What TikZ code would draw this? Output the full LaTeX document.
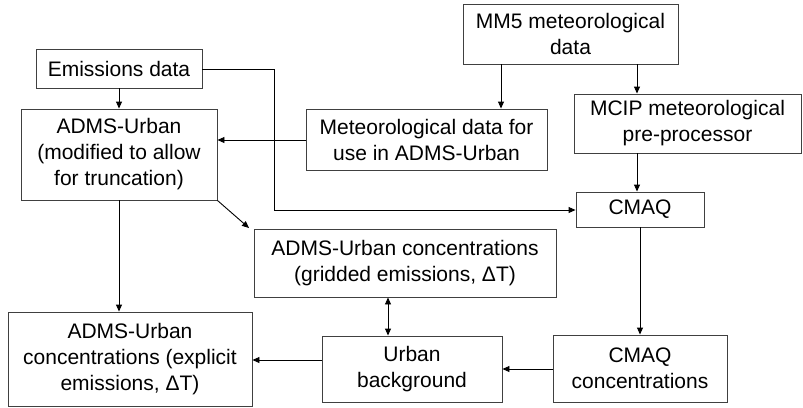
\documentclass[tikz,border=0pt]{standalone}
\usepackage{fontspec}
\setmainfont{Liberation Sans}
\usetikzlibrary{arrows.meta}
\begin{document}
\begin{tikzpicture}[x=1pt,y=-1pt,
  box/.style={draw=black!75,line width=0.9pt,align=center,inner sep=0pt,
    font=\fontsize{21}{26}\selectfont},
  arr/.style={draw=black,line width=0.9pt,-{Triangle[length=7pt,width=6pt]}},
  darr/.style={draw=black,line width=0.9pt,{Triangle[length=7pt,width=6pt]}-{Triangle[length=7pt,width=6pt]}}]
\useasboundingbox (0,0) rectangle (803,407);
\node[box,minimum width=166pt,minimum height=39pt] (emis) at (119,68.5) {Emissions data};
\node[box,minimum width=196pt,minimum height=91pt] (adms) at (119,154.5) {ADMS-Urban\\(modified to allow\\for truncation)};
\node[box,minimum width=241pt,minimum height=61pt] (met) at (426.5,139.5) {Meteorological data for\\use in ADMS-Urban};
\node[box,minimum width=215pt,minimum height=60pt] (mm5) at (570.5,34) {MM5 meteorological\\data};
\node[box,minimum width=227pt,minimum height=59pt] (mcip) at (687.5,123.5) {MCIP meteorological\\pre-processor};
\node[box,minimum width=128pt,minimum height=35pt] (cmaq) at (640,209.5) {CMAQ};
\node[box,minimum width=302pt,minimum height=68pt] (grid) at (405,263) {ADMS-Urban concentrations\\(gridded emissions, ΔT)};
\node[box,minimum width=244pt,minimum height=94pt] (expl) at (130,359) {ADMS-Urban\\concentrations (explicit\\emissions, ΔT)};
\node[box,minimum width=180pt,minimum height=66pt] (urban) at (412,369) {Urban\\background};
\node[box,minimum width=174pt,minimum height=67pt] (cmaqc) at (640,368.5) {CMAQ\\concentrations};
\coordinate (gtip) at (249,228);
% connectors
\draw[arr] (emis.south) -- (adms.north);
\draw[arr] (emis.east |- 0,69) -- (274,69) -- (274,210) -- (cmaq.west |- 0,210);
\draw[arr] (met.west |- 0,140) -- (adms.east |- 0,140);
\draw[arr] (mm5.south -| 501,0) -- (met.north -| 501,0);
\draw[arr] (mm5.south -| 637,0) -- (mcip.north -| 637,0);
\draw[arr] (mcip.south -| 637,0) -- (cmaq.north -| 637,0);
\draw[arr] (adms.south east) -- (gtip);
\draw[arr] (adms.south) -- (expl.north -| adms.south);
\draw[darr] (grid.south -| 388,0) -- (urban.north -| 388,0);
\draw[arr] (urban.west |- 0,360) -- (expl.east |- 0,360);
\draw[arr] (cmaq.south) -- (cmaqc.north);
\draw[arr] (cmaqc.west |- 0,369) -- (urban.east |- 0,369);
\end{tikzpicture}
\end{document}
